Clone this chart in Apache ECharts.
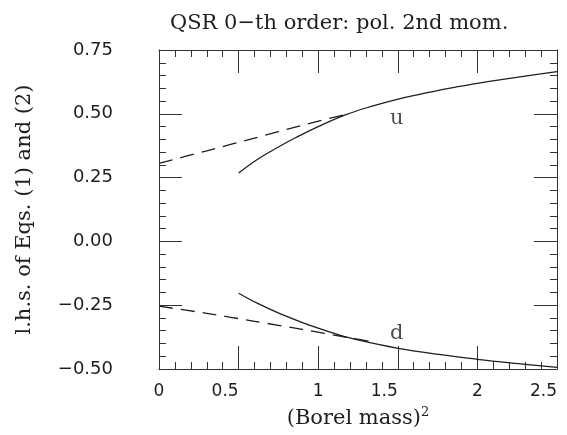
<!DOCTYPE html>
<html>
<head>
<meta charset="utf-8">
<script src="https://cdn.jsdelivr.net/npm/echarts@6/dist/echarts.min.js"></script>
<style>
html,body{margin:0;padding:0;background:#fff;}
#chart{width:567px;height:435px;}
</style>
</head>
<body>
<div id="chart"></div>
<script>
// ---- data ----
const titleText = 'QSR 0\u2212th order: pol. 2nd mom.';
const xAxisName = '(Borel mass)';
const yAxisName = 'l.h.s. of Eqs. (1) and (2)';
const xTicks = [0, 0.5, 1, 1.5, 2, 2.5];
const yTicks = [-0.5, -0.25, 0, 0.25, 0.5, 0.75];

const uSolidX = [0.5, 0.62, 0.75, 0.86, 1.0, 1.175, 1.35, 1.49, 1.65, 1.82, 2.0, 2.15, 2.3, 2.5];
const uSolidY = [0.268, 0.322, 0.370, 0.407, 0.450, 0.497, 0.532, 0.556, 0.578, 0.600, 0.619, 0.634, 0.648, 0.665];

const uDashX = [0, 0.3, 0.6, 0.9, 1.2];
const uDashY = [0.306, 0.355, 0.405, 0.455, 0.502];

const dSolidX = [0.5, 0.62, 0.756, 0.88, 1.0, 1.13, 1.256, 1.494, 1.756, 2.0, 2.256, 2.5];
const dSolidY = [-0.203, -0.243, -0.282, -0.313, -0.340, -0.366, -0.387, -0.418, -0.443, -0.462, -0.479, -0.494];

const dDashX = [0, 0.3, 0.6, 0.9, 1.2, 1.35];
const dDashY = [-0.254, -0.282, -0.313, -0.345, -0.378, -0.394];

const curveLabels = ['u', 'd'];
const curveLabelX = [1.494, 1.494];
const curveLabelY = [0.483, -0.36];

// ---- build ----
const zip = (xs, ys) => xs.map((x, i) => [x, ys[i]]);
const ink = '#1e1e1e';
const serifFont = 'DejaVu Serif';
const sansFont = 'DejaVu Sans';
const lineCol = '#333';
const MAJOR_LEN = 23;

function xAxisCfg(pos, kind) {
  const cfg = {
    type: 'value', position: pos, min: xTicks[0], max: xTicks[xTicks.length - 1], interval: 0.5,
    axisLine: { show: kind !== 'major', onZero: false, lineStyle: { color: lineCol, width: 1 } },
    axisTick: { show: true, inside: true, length: kind === 'major' ? MAJOR_LEN : 7, lineStyle: { color: lineCol, width: 1 } },
    minorTick: { show: kind !== 'major', splitNumber: 5, length: 7, lineStyle: { color: lineCol, width: 1 } },
    splitLine: { show: false },
    minorSplitLine: { show: false },
    axisLabel: { show: false },
    name: ''
  };
  if (kind === 'main') {
    cfg.axisLabel = {
      show: true, margin: 14, color: ink, fontFamily: sansFont, fontSize: 17,
      formatter: v => Number.isInteger(v) ? '{i|' + v + '}' : '{d|' + v + '}',
      rich: {
        i: { fontFamily: sansFont, fontSize: 17, color: ink },
        d: { fontFamily: sansFont, fontSize: 17, color: ink, padding: [0, 27, 0, 0] }
      }
    };
    cfg.name = xAxisName + '{sup|2}';
    cfg.nameLocation = 'middle';
    cfg.nameGap = 37;
    cfg.nameTextStyle = {
      fontFamily: serifFont, fontSize: 21, color: ink,
      rich: { sup: { fontFamily: serifFont, fontSize: 13, color: ink, verticalAlign: 'top', padding: [0, 0, 12, 0] } }
    };
  }
  return cfg;
}
function yAxisCfg(pos, kind) {
  const cfg = {
    type: 'value', position: pos, min: yTicks[0], max: yTicks[yTicks.length - 1], interval: 0.25,
    axisLine: { show: kind !== 'major', onZero: false, lineStyle: { color: lineCol, width: 1 } },
    axisTick: { show: true, inside: true, length: kind === 'major' ? MAJOR_LEN : 7, lineStyle: { color: lineCol, width: 1 } },
    minorTick: { show: kind !== 'major', splitNumber: 5, length: 7, lineStyle: { color: lineCol, width: 1 } },
    splitLine: { show: false },
    minorSplitLine: { show: false },
    axisLabel: { show: false },
    name: ''
  };
  if (kind === 'main') {
    cfg.axisLabel = {
      show: true, margin: 46, color: ink, fontFamily: sansFont, fontSize: 18,
      formatter: v => (v < 0 ? '\u2212' : '') + Math.abs(v).toFixed(2)
    };
    cfg.name = yAxisName;
    cfg.nameLocation = 'middle';
    cfg.nameGap = 124;
    cfg.nameRotate = 90;
    cfg.nameTextStyle = { fontFamily: serifFont, fontSize: 21, color: ink };
  }
  return cfg;
}

const lineBase = { type: 'line', showSymbol: false, symbol: 'none', xAxisIndex: 0, yAxisIndex: 0, animation: false };

const option = {
  backgroundColor: '#fff',
  animation: false,
  title: {
    text: titleText, left: 165, top: 8,
    textStyle: { fontFamily: serifFont, fontSize: 21, fontWeight: 'normal', color: ink }
  },
  grid: { left: 159, right: 10, top: 50, bottom: 66, containLabel: false },
  xAxis: [xAxisCfg('bottom', 'main'), xAxisCfg('top', 'frame'), xAxisCfg('bottom', 'major'), xAxisCfg('top', 'major')],
  yAxis: [yAxisCfg('left', 'main'), yAxisCfg('right', 'frame'), yAxisCfg('left', 'major'), yAxisCfg('right', 'major')],
  series: [
    Object.assign({}, lineBase, { name: 'u', data: zip(uSolidX, uSolidY), smooth: 0.4,
      lineStyle: { color: ink, width: 1.3 } }),
    Object.assign({}, lineBase, { name: 'u dashed', data: zip(uDashX, uDashY), smooth: 0.3,
      lineStyle: { color: ink, width: 1.3, type: [14, 8] } }),
    Object.assign({}, lineBase, { name: 'd', data: zip(dSolidX, dSolidY), smooth: 0.4,
      lineStyle: { color: ink, width: 1.3 } }),
    Object.assign({}, lineBase, { name: 'd dashed', data: zip(dDashX, dDashY), smooth: 0.3,
      lineStyle: { color: ink, width: 1.3, type: [14, 8] } }),
    {
      type: 'scatter', name: 'labels', symbolSize: 1, itemStyle: { color: 'rgba(0,0,0,0)' },
      xAxisIndex: 0, yAxisIndex: 0,
      data: curveLabels.map((t, i) => ({ value: [curveLabelX[i], curveLabelY[i]], name: t })),
      label: { show: true, position: 'inside', formatter: p => p.name,
        fontFamily: serifFont, fontSize: 21, color: ink },
      silent: true, animation: false
    }
  ]
};

const chart = echarts.init(document.getElementById('chart'), null, { renderer: 'canvas' });
chart.setOption(option);
</script>
</body>
</html>
